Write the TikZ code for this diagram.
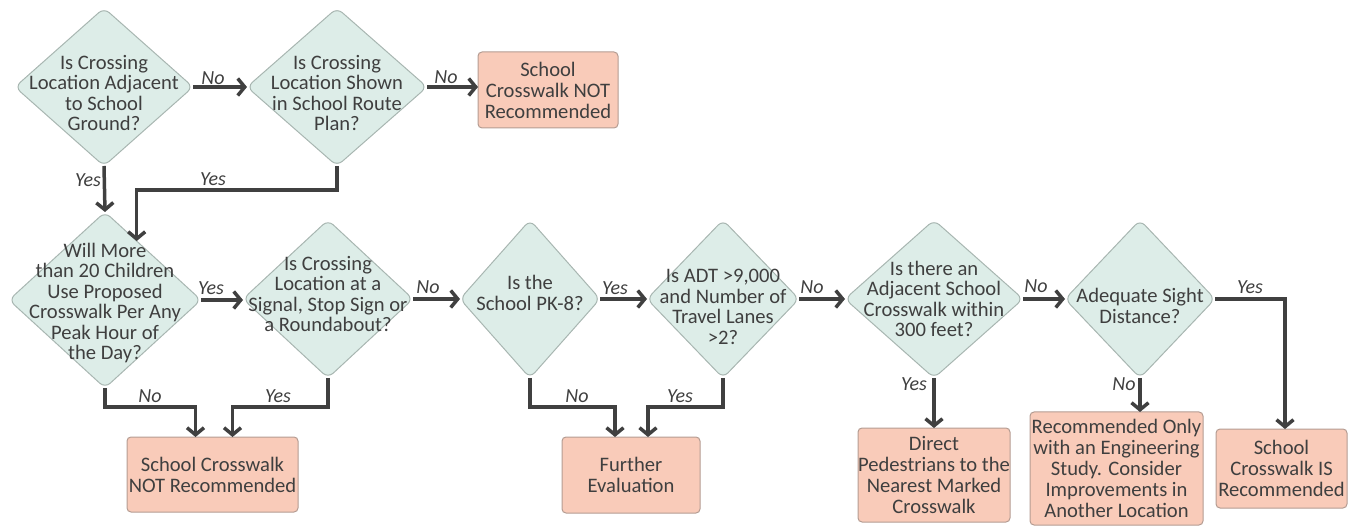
\documentclass[tikz,border=0pt]{standalone}
\usepackage{fontspec}
\setmainfont{Carlito}
\usetikzlibrary{shapes.geometric,arrows.meta,calc}
\definecolor{dfill}{HTML}{DDEDE8}
\definecolor{dline}{HTML}{A8B6B1}
\definecolor{bfill}{HTML}{F9CBB9}
\definecolor{bline}{HTML}{B49C92}
\definecolor{txt}{HTML}{3F3F3F}
\definecolor{arr}{HTML}{404040}
\begin{document}
\begin{tikzpicture}[x=1pt,y=-1pt,
 dia/.style={shape=diamond, draw=dline, fill=dfill, line width=1pt, rounded corners=7pt, inner sep=0pt, outer sep=0pt},
 dtext/.style={text=txt, align=center, font=\fontsize{20.6}{20.5}\selectfont, inner sep=0pt},
 box/.style={draw=bline, fill=bfill, line width=1pt, rounded corners=4pt, text=txt, align=center, font=\fontsize{20.6}{21}\selectfont, inner sep=0pt, outer sep=0pt},
 flow/.style={draw=arr, line width=3.5pt, -{Straight Barb[length=7pt,width=17pt]}},
 lbl/.style={text=txt, font=\fontsize{20}{20}\selectfont\itshape, inner sep=0pt}
]
\useasboundingbox (0,0) rectangle (1352,526);
% diamonds
\node[dia, minimum width=178pt, minimum height=158pt] (d1) at (104,87) {};
\node[dia, minimum width=180pt, minimum height=158pt] (d2) at (337,87) {};
\node[dia, minimum width=192pt, minimum height=176pt] (d3) at (105,300) {};
\node[dia, minimum width=170pt, minimum height=158pt] (d4) at (328,299) {};
\node[dia, minimum width=140pt, minimum height=158pt] (d5) at (530,299) {};
\node[dia, minimum width=152pt, minimum height=158pt] (d6) at (723,299) {};
\node[dia, minimum width=178pt, minimum height=158pt] (d7) at (934,299) {};
\node[dia, minimum width=150pt, minimum height=158pt] (d8) at (1140,299) {};
\node[dtext] (t1) at (104,93) {Is Crossing\\Location Adjacent\\to School\\Ground?};
\node[dtext] (t2) at (337,93) {Is Crossing\\Location Shown\\in School Route\\Plan?};
\node[dtext] (t3) at (105,303) {Will More\\than 20 Children\\Use Proposed\\Crosswalk Per Any\\Peak Hour of\\the Day?};
\node[dtext] (t4) at (328,294) {Is Crossing\\Location at a\\Signal, Stop Sign or\\a Roundabout?};
\node[dtext] (t5) at (530,293) {Is the\\School PK-8?};
\node[dtext] (t6) at (723,307) {Is ADT >9,000\\and Number of\\Travel Lanes\\>2?};
\node[dtext] (t7) at (934,299) {Is there an\\Adjacent School\\Crosswalk within\\300 feet?};
\node[dtext] (t8) at (1140,306) {Adequate Sight\\Distance?};
% boxes
\node[box, minimum width=140pt, minimum height=76pt] (b1) at (548,90) {School\\Crosswalk NOT\\Recommended};
\node[box, minimum width=171pt, minimum height=75pt] (b2) at (212.5,474.5) {School Crosswalk\\NOT Recommended};
\node[box, minimum width=138pt, minimum height=76pt] (b3) at (631,475) {Further\\Evaluation};
\node[box, minimum width=152pt, minimum height=94pt] (b4) at (934,475) {Direct\\Pedestrians to the\\Nearest Marked\\Crosswalk};
\node[box, minimum width=173pt, minimum height=113pt] (b5) at (1116.5,468.5) {Recommended Only\\with an Engineering\\Study. Consider\\Improvements in\\Another Location};
\node[box, minimum width=131pt, minimum height=79pt] (b6) at (1281.5,468.5) {School\\Crosswalk IS\\Recommended};
% connectors
\draw[flow] (d1.east) -- (d2.west);
\draw[flow] (d2.east) -- (d2.east -| b1.west);
\draw[flow] (d1.south) -- (d3.north);
\draw[flow] (d2.south) -- ++(0,24) -| ($(d3.north)!0.33!(d3.east)$);
\draw[flow] (d3.east) -- (d3.east -| d4.west);
\draw[flow] (d4.east) -- (d5.west);
\draw[flow] (d5.east) -- (d6.west);
\draw[flow] (d6.east) -- (d7.west);
\draw[flow] (d7.east) -- (d8.west);
\draw[flow] (d3.south) |- ([xshift=-17pt,yshift=30pt]b2.north) -- ([xshift=-17pt]b2.north);
\draw[flow] (d4.south) |- ([xshift=20pt,yshift=30pt]b2.north) -- ([xshift=20pt]b2.north);
\draw[flow] (d5.south) |- ([xshift=-16pt,yshift=30pt]b3.north) -- ([xshift=-16pt]b3.north);
\draw[flow] (d6.south) |- ([xshift=17pt,yshift=30pt]b3.north) -- ([xshift=17pt]b3.north);
\draw[flow] (d7.south) -- (d7.south |- b4.north);
\draw[flow] (d8.south) -- (d8.south |- b5.north);
\draw[flow] (d8.east) -| ([xshift=3.5pt]b6.north);
% labels
\node[lbl] (l1) at (213,78) {No};
\node[lbl] (l2) at (446,77) {No};
\node[lbl] (l3) at (88,180) {Yes};
\node[lbl] (l4) at (213,179) {Yes};
\node[lbl] (l5) at (211,288) {Yes};
\node[lbl] (l6) at (428,287) {No};
\node[lbl] (l7) at (150,396) {No};
\node[lbl] (l8) at (278,396) {Yes};
\node[lbl] (l9) at (615,288) {Yes};
\node[lbl] (l10) at (812,287) {No};
\node[lbl] (l11) at (577,396) {No};
\node[lbl] (l12) at (680,396) {Yes};
\node[lbl] (l13) at (914,384) {Yes};
\node[lbl] (l14) at (1036,286) {No};
\node[lbl] (l15) at (1124,384) {No};
\node[lbl] (l16) at (1250,287) {Yes};
\end{tikzpicture}
\end{document}
